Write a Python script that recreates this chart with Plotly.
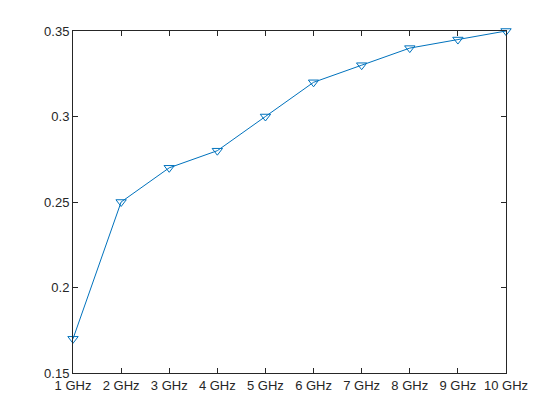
import plotly.graph_objects as go

freq_ghz = [1, 2, 3, 4, 5, 6, 7, 8, 9, 10]
tick_labels = [f"{f} GHz" for f in freq_ghz]
values = [0.17, 0.25, 0.27, 0.28, 0.30, 0.32, 0.33, 0.34, 0.345, 0.35]
y_ticks = [0.15, 0.2, 0.25, 0.3, 0.35]

fig = go.Figure()
fig.add_trace(go.Scatter(
    x=freq_ghz, y=values, mode="lines+markers",
    line=dict(color="#0072BD", width=1),
    marker=dict(symbol="triangle-down-open", size=9, color="#0072BD", line=dict(width=1)),
    cliponaxis=False,
))

axis_common = dict(
    showgrid=False, zeroline=False, showline=True, linecolor="#262626", linewidth=1,
    mirror="ticks", ticks="inside", ticklen=5, tickcolor="#262626",
    tickfont=dict(family="Liberation Sans, Arial", size=13, color="#262626"),
)
fig.update_xaxes(range=[1, 10], tickvals=freq_ghz, ticktext=tick_labels, **axis_common)
fig.update_yaxes(range=[0.15, 0.35], tickvals=y_ticks, ticktext=["0.15", "0.2", "0.25", "0.3", "0.35"], **axis_common)

# page body has an 8px margin, so offset plot area accordingly
fig.update_layout(
    width=560, height=420,
    margin=dict(l=65, r=62, t=23, b=55, autoexpand=False),
    plot_bgcolor="white", paper_bgcolor="white",
    showlegend=False,
)
fig.write_html("out.html")
